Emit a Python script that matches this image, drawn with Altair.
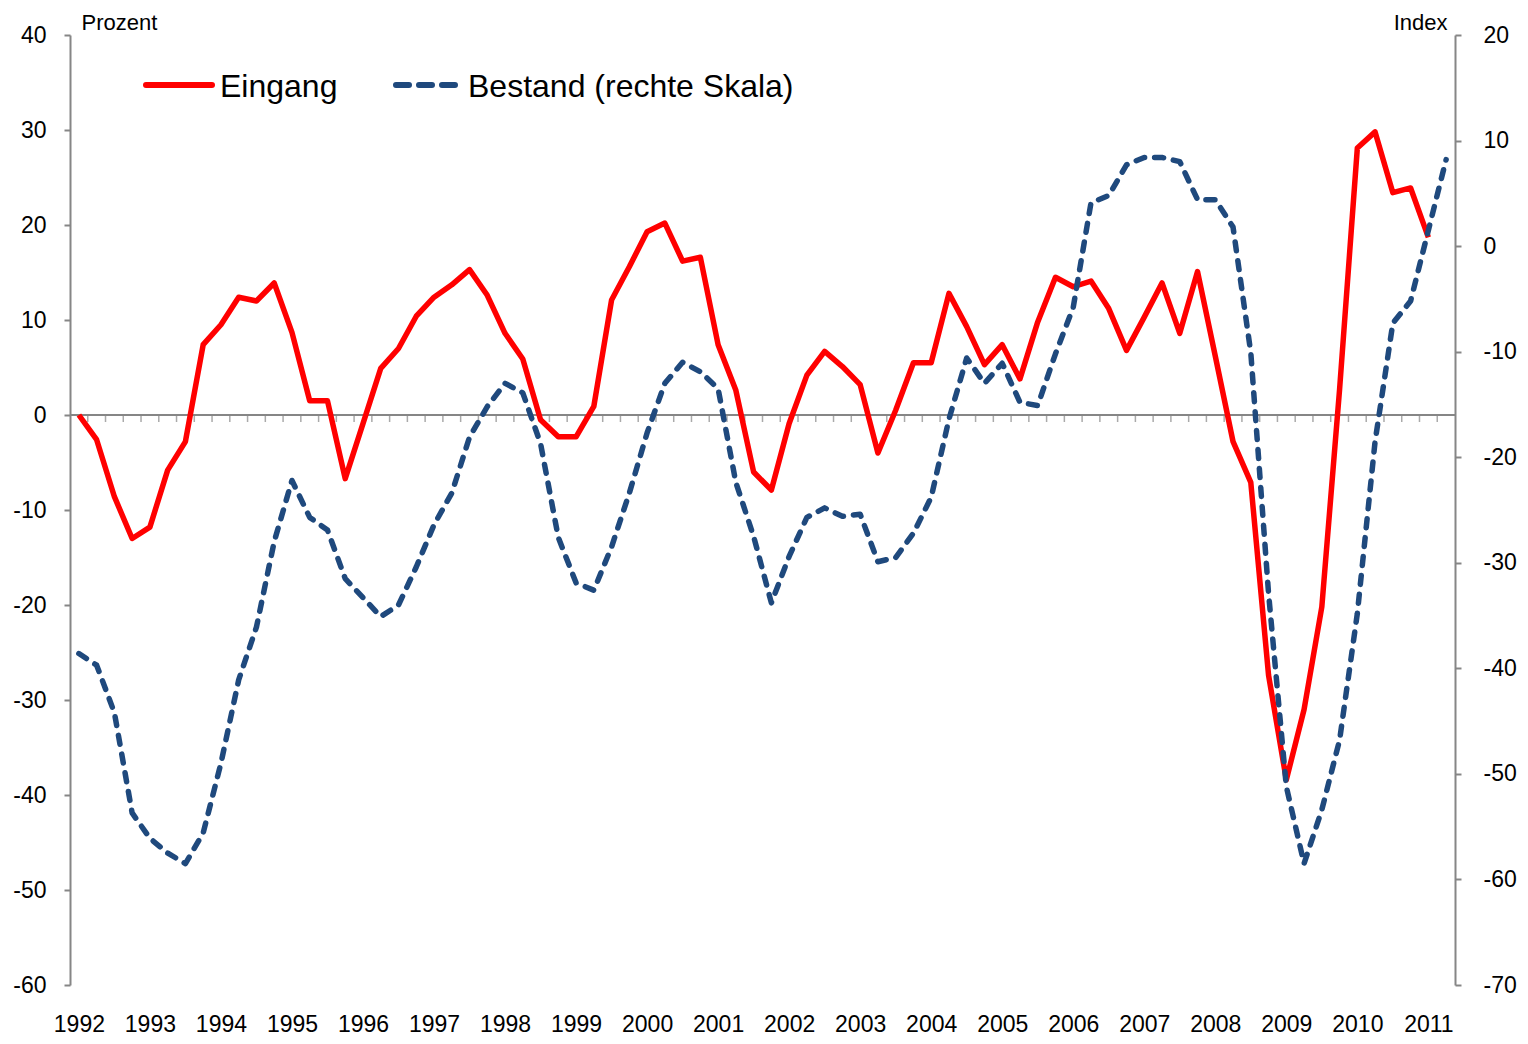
import altair as alt
import pandas as pd

# ---------------- data ----------------
years = list(range(1992, 2012))          # year labels, 4 quarters each
first_year = 1992

# Eingang (Prozent, left scale), quarterly 1992Q1 .. 2011Q1
eingang = [0.0, -2.6, -8.6, -13.0, -11.8, -5.8, -2.8, 7.4,
           9.5, 12.4, 12.0, 13.9, 8.7, 1.5, 1.5, -6.7,
           -0.9, 4.9, 7.0, 10.4, 12.4, 13.7, 15.3, 12.6,
           8.6, 5.9, -0.5, -2.3, -2.3, 0.9, 12.1, 15.6,
           19.3, 20.2, 16.2, 16.6, 7.4, 2.6, -6.0, -7.9,
           -0.9, 4.2, 6.7, 5.1, 3.2, -4.0, 0.5, 5.5,
           5.5, 12.8, 9.3, 5.3, 7.4, 3.8, 9.8, 14.5,
           13.5, 14.1, 11.2, 6.8, 10.3, 13.9, 8.6, 15.1,
           6.2, -2.8, -7.1, -27.4, -38.4, -31.0, -20.2, 2.7,
           28.1, 29.8, 23.4, 23.9, 18.7]

# Bestand (Index, right scale), quarterly 1992Q1 .. 2011Q2
bestand = [-38.6, -39.7, -44.2, -53.7, -56.1, -57.5, -58.5, -55.6,
           -49.0, -41.1, -36.1, -28.0, -22.2, -25.7, -26.9, -31.5,
           -33.3, -35.1, -34.0, -30.4, -26.4, -23.4, -18.1, -15.2,
           -13.0, -13.9, -18.7, -27.6, -31.9, -32.6, -28.5, -23.4,
           -17.7, -13.0, -11.0, -11.9, -13.5, -22.4, -27.5, -33.8,
           -29.4, -25.7, -24.8, -25.6, -25.4, -29.9, -29.5, -27.2,
           -23.8, -16.4, -10.6, -13.0, -11.1, -14.8, -15.1, -10.2,
           -5.8, 4.1, 4.8, 7.7, 8.4, 8.4, 8.0, 4.4,
           4.4, 1.8, -10.1, -32.9, -51.2, -58.5, -53.4, -46.8,
           -34.8, -18.5, -7.3, -5.2, 1.5, 8.2]

left_ticks = list(range(-60, 41, 10))
right_ticks = list(range(-70, 21, 10))

# ---------------- styling ----------------
RED = "#FF0000"
BLUE = "#1F497D"
GRAY = "#868686"
FONT = "Liberation Sans"

n = len(bestand)
df_e = pd.DataFrame({"t": list(range(len(eingang))), "v": eingang})
df_b = pd.DataFrame({"t": list(range(n)), "v": bestand})
df_zero = pd.DataFrame({"t": [0], "v": [0]})
df_minor = pd.DataFrame({"t": [i + 0.5 for i in range(n - 1)], "v": [0] * (n - 1)})

xscale = alt.Scale(domain=[-0.5, n - 0.5], nice=False, zero=False)
lscale = alt.Scale(domain=[left_ticks[0], left_ticks[-1]], nice=False, zero=False)
rscale = alt.Scale(domain=[right_ticks[0], right_ticks[-1]], nice=False, zero=False)

x_axis = alt.Axis(
    values=[4 * k for k in range(len(years))],
    labelExpr=f"toString({first_year} + datum.value / 4)",
    domain=False, ticks=False, tickSize=0, grid=False,
    labelFontSize=23, labelPadding=28, labelColor="black", labelFont=FONT,
    title=None, labelFlush=False, labelOverlap=False, orient="bottom",
)

left_axis = alt.Axis(
    values=left_ticks, orient="left", grid=False,
    labelExpr="toString(datum.value)",
    domainColor=GRAY, domainWidth=2, tickColor=GRAY, tickWidth=2, tickSize=6,
    labelFontSize=23, labelPadding=18, labelColor="black", labelFont=FONT,
    title="Prozent", titleAngle=0, titleAlign="left", titleBaseline="alphabetic",
    titleX=11, titleY=-6, titleFontSize=22, titleFontWeight="normal",
    titleFont=FONT, titleColor="black",
)

right_axis = alt.Axis(
    values=right_ticks, orient="right", grid=False,
    labelExpr="toString(datum.value)",
    domainColor=GRAY, domainWidth=2, tickColor=GRAY, tickWidth=2, tickSize=6,
    labelFontSize=23, labelPadding=22, labelColor="black", labelFont=FONT,
    title="Index", titleAngle=0, titleAlign="right", titleBaseline="alphabetic",
    titleX=-8, titleY=-6, titleFontSize=22, titleFontWeight="normal",
    titleFont=FONT, titleColor="black",
)

X = alt.X("t:Q", scale=xscale, axis=x_axis)
YL = alt.Y("v:Q", scale=lscale, axis=left_axis)

zero_rule = alt.Chart(df_zero).mark_rule(color=GRAY, strokeWidth=2).encode(y=YL)

minor = alt.Chart(df_minor).mark_tick(
    orient="vertical", size=7, thickness=1.5, yOffset=3.5, color=GRAY
).encode(x=X, y=YL)

line_e = alt.Chart(df_e).mark_line(
    color=RED, strokeWidth=5.5, strokeJoin="round"
).encode(x=X, y=YL)

left = alt.layer(zero_rule, minor, line_e)

line_b = alt.Chart(df_b).mark_line(
    color=BLUE, strokeWidth=5.5, strokeDash=[9, 10], strokeCap="round", strokeJoin="round"
).encode(
    x=X,
    y=alt.Y("v:Q", scale=rscale, axis=right_axis),
)

# ---------------- legend (drawn) ----------------
leg_df = pd.DataFrame({"a": [0]})
leg_red = alt.Chart(leg_df).mark_rule(color=RED, strokeWidth=6, strokeCap="round").encode(
    x=alt.value(76), x2=alt.value(142), y=alt.value(50)
)
leg_red_txt = alt.Chart(leg_df).mark_text(
    text="Eingang", align="left", baseline="middle", fontSize=32, font=FONT, color="black"
).encode(x=alt.value(150), y=alt.value(52))
leg_blue = alt.Chart(leg_df).mark_rule(
    color=BLUE, strokeWidth=6, strokeCap="round", strokeDash=[13, 10]
).encode(x=alt.value(326), x2=alt.value(390), y=alt.value(50))
leg_blue_txt = alt.Chart(leg_df).mark_text(
    text="Bestand (rechte Skala)", align="left", baseline="middle", fontSize=32,
    font=FONT, color="black"
).encode(x=alt.value(398), y=alt.value(52))

chart = alt.layer(
    left, line_b, leg_red, leg_red_txt, leg_blue, leg_blue_txt
).resolve_scale(y="independent").properties(
    width=1385, height=950,
    autosize=alt.AutoSizeParams(type="none"),
    padding={"left": 62, "top": 27, "right": 65, "bottom": 51},
    background="white",
).configure_view(stroke=None)

chart.save("out.html", embed_options={"renderer": "svg", "actions": False})
